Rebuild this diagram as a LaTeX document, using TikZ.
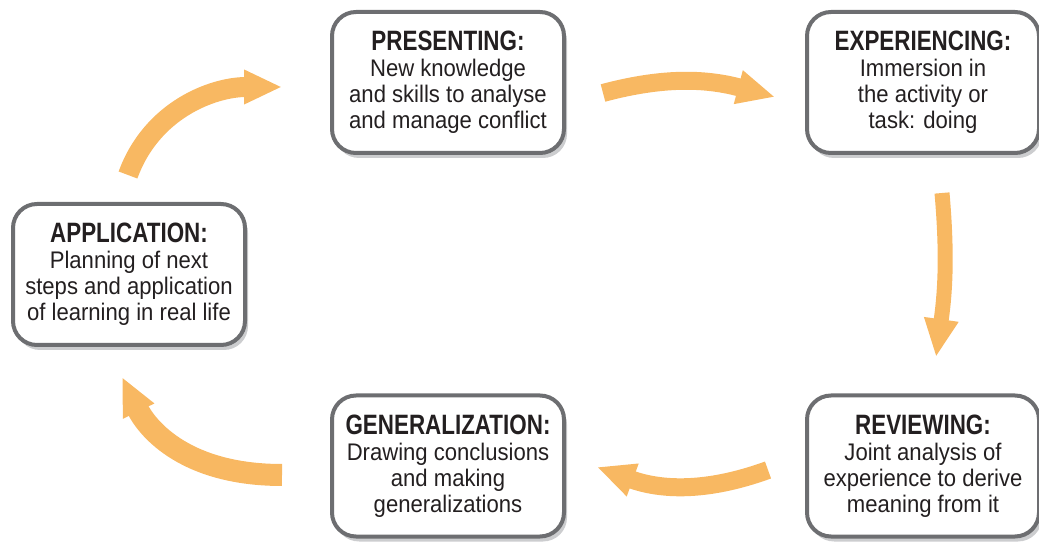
\documentclass[tikz,border=0pt]{standalone}
\usepackage{fontspec}
\setmainfont[FakeStretch=0.92]{Liberation Sans}
\newfontfamily\headfont[FakeStretch=0.8]{Liberation Sans}
\usetikzlibrary{arrows.meta,shadows}
\definecolor{boxline}{RGB}{109,110,113}
\definecolor{boxshade}{RGB}{204,205,207}
\definecolor{flowcol}{RGB}{248,184,98}
\definecolor{inkcol}{RGB}{35,31,32}
\newcommand{\stagehead}[1]{{\headfont\bfseries\fontsize{28}{26}\selectfont #1}}
\tikzset{
	stage/.style={draw=boxline,line width=4pt,fill=white,rounded corners=24pt,
		minimum width=232pt,minimum height=141pt,align=center,text=inkcol,
		font=\fontsize{24}{26}\selectfont,
		general shadow={fill=boxshade,shadow xshift=3pt,shadow yshift=-5pt}},
	flow/.style={draw=flowcol,line width=18pt,-{Triangle[width=32pt,length=38pt]}}
}
\begin{document}
\begin{tikzpicture}[x=1pt,y=1pt]
			\useasboundingbox (0,0) rectangle (1039,541);
			\foreach \nm/\x/\y/\ttl/\txt in {
				pres/448/458.5/PRESENTING:/{New knowledge\\and skills to analyse\\and manage conflict},
				exp/923/458.5/EXPERIENCING:/{Immersion in\\the activity or\\task: doing},
				rev/923/75/REVIEWING:/{Joint analysis of\\experience to derive\\meaning from it},
				gen/448/75/GENERALIZATION:/{Drawing conclusions\\and making\\generalizations},
				app/129/266.5/APPLICATION:/{Planning of next\\steps and application\\of learning in real life}}
			\node[stage] (\nm) at (\x,\y) {\stagehead{\ttl}\\\txt};
			\draw[flow] ([shift={(37,-10.5)}]pres.east) to[out=15,in=165]
				([shift={(-30,-14.5)}]exp.west);
			\draw[flow,line width=15pt] ([shift={(19,-38)}]exp.south) to[out=-85,in=82]
				([shift={(13,36.5)}]rev.north);
			\draw[flow] ([shift={(-37,-4)}]rev.west) to[out=200,in=-20]
				([shift={(31,-1)}]gen.east);
			\draw[flow,line width=22pt] ([shift={(-48,-9)}]gen.west)
				to[out=180,in=-64,out looseness=1.4,in looseness=0.7]
				([shift={(-7,-30)}]app.south);
			\draw[flow,line width=20pt] ([shift={(-1,27)}]app.north) to[out=70,in=180]
				([shift={(-48,-4.5)}]pres.west);
		\end{tikzpicture}
\end{document}
